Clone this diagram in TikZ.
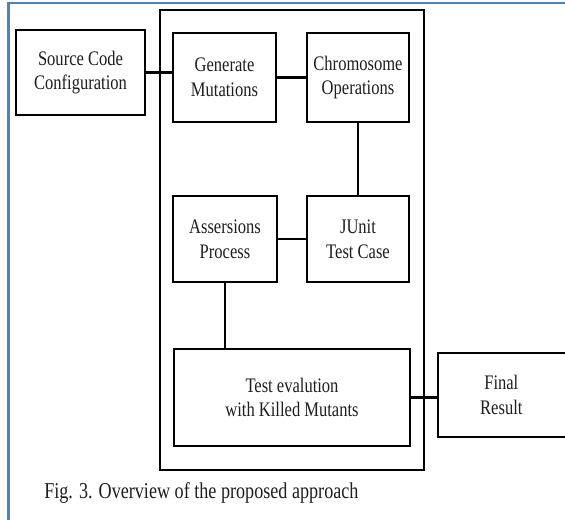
\documentclass[tikz,border=0pt]{standalone}
\usepackage{fontspec}
\setmainfont{Liberation Serif}[FakeStretch=0.8]
\usetikzlibrary{calc}
\definecolor{frameblue}{RGB}{79,129,189}
\definecolor{txt}{RGB}{30,30,30}
\tikzset{
  blk/.style={rectangle,draw=black,line width=2pt,fill=white,align=center,
    inner sep=2pt,text=txt,font=\fontsize{15.5}{18.5}\selectfont},
  link/.style={line width=2pt},
  frame/.style={frameblue,line width=1.6pt}
}

\begin{document}
\begin{tikzpicture}[x=0.75pt,y=-0.75pt]
\useasboundingbox (0,0) rectangle (565,520);
% ---------------- page frame ----------------
\draw[frame] (8.5,520) -- (8.5,3) -- (565,3);
% ---------------- outer box ----------------
\draw[line width=1.6pt] (160,10) rectangle (424,470);
% ---------------- blocks ----------------
\node[blk,minimum width=96.75pt,minimum height=63.75pt] (src) at (80.5,72.5)
  {Source Code\\Configuration};
\node[blk,minimum width=77.25pt,minimum height=66.75pt] (gen) at (224.5,77.5)
  {Generate\\Mutations};
\node[blk,minimum width=76.5pt,minimum height=66.75pt] (chrom) at (358,77.5)
  {Chromosome\\Operations};
\node[blk,minimum width=78pt,minimum height=64.5pt] (assert) at (225,239)
  {Assersions\\Process};
\node[blk,minimum width=76.5pt,minimum height=64.5pt] (junit) at (358,239)
  {JUnit\\Test Case};
\node[blk,minimum width=177pt,minimum height=72.75pt] (eval) at (292,397.5)
  {Test evalution\\with Killed Mutants};
% box runs off the right edge of the page
\node[blk,minimum width=102pt,minimum height=63pt,text width=94pt] (final) at (506,395)
  {\hspace*{-7pt}Final\\\hspace*{-7pt}Result};
% ---------------- links ----------------
\draw[link] (src.east) -- (src.east -| gen.west);
\draw[link] (gen.east) -- (gen.east -| chrom.west);
\draw[link] (chrom.south) -- (chrom.south |- junit.north);
\draw[link] (junit.west) -- (junit.west -| assert.east);
\draw[link] (assert.south) -- (assert.south |- eval.north);
\draw[link] (eval.east) -- (eval.east -| final.west);
% ---------------- caption ----------------
\node[anchor=west,inner sep=3pt,text=txt,font=\fontsize{17}{20}\selectfont]
  (cap) at (40,493) {Fig. 3. Overview of the proposed approach};
\end{tikzpicture}
\end{document}
